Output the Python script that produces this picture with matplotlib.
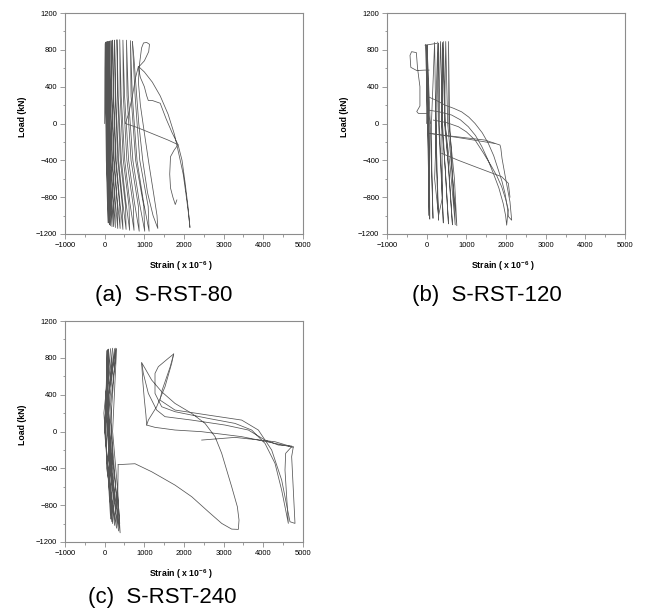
import matplotlib.pyplot as plt
from matplotlib.ticker import MultipleLocator

plt.rcParams['font.family'] = ['Liberation Sans', 'DejaVu Sans']
plt.rcParams['mathtext.fontset'] = 'custom'
plt.rcParams['mathtext.rm'] = 'Liberation Sans'
plt.rcParams['mathtext.bf'] = 'Liberation Sans:bold'

# axis settings shared by the three panels
x_ticks = [-1000, 0, 1000, 2000, 3000, 4000, 5000]
y_ticks = [-1200, -800, -400, 0, 400, 800, 1200]
captions = ['(a)  S-RST-80', '(b)  S-RST-120', '(c)  S-RST-240']

# (a) S-RST-80 : strain (x1e-6), load (kN)
a_band = [
    (0, 0), (5, 600), (15, 870),
    (22, 300), (41, -400), (68, -850), (90, -1080), (86, -900), (52, -400), (34, 300), (25, 880),
    (35, 300), (58, -400), (92, -850), (120, -1100), (115, -900), (72, -400), (49, 300), (35, 885),
    (47, 300), (75, -400), (116, -850), (150, -1110), (144, -900), (92, -400), (64, 300), (50, 885),
    (64, 300), (97, -400), (145, -850), (185, -1120), (178, -900), (118, -400), (84, 300), (70, 890),
    (86, 300), (124, -400), (178, -850), (225, -1120), (217, -900), (148, -400), (109, 300), (95, 890),
    (113, 300), (156, -400), (218, -850), (270, -1130), (261, -900), (183, -400), (139, 300), (125, 895),
    (146, 300), (197, -400), (269, -850), (330, -1140), (320, -900), (228, -400), (176, 300), (160, 900),
    (183, 300), (241, -400), (321, -850), (390, -1140), (379, -900), (275, -400), (218, 300), (200, 905),
    (226, 300), (291, -400), (382, -850), (460, -1150), (447, -900), (330, -400), (265, 300), (250, 905),
    (279, 300), (352, -400), (453, -850), (540, -1150), (526, -900), (395, -400), (323, 300), (310, 910),
    (342, 300), (422, -400), (534, -850), (630, -1160), (614, -900), (470, -400), (390, 300), (380, 910),
    (416, 300), (506, -400), (632, -850), (740, -1160), (722, -900), (560, -400), (470, 300), (460, 905),
    (501, 300), (604, -400), (747, -850), (870, -1170), (850, -900), (665, -400), (563, 300), (550, 905),
    (596, 300), (711, -400), (872, -850), (1010, -1170), (987, -900), (780, -400), (665, 300), (650, 900),
    (697, 300), (815, -400), (979, -850), (1120, -1170), (1097, -900), (885, -400), (767, 300), (700, 890),
]
a_tail1 = [
    (700, 890), (740, 700), (790, 400), (860, 0), (960, -400), (1080, -750),
    (1220, -1000), (1340, -1140), (1320, -1000), (1230, -750), (1120, -450),
    (1000, -100), (900, 200), (850, 450), (880, 650), (930, 820), (980, 875),
    (1060, 880), (1130, 860), (1110, 780), (1000, 680), (850, 610), (900, 500),
    (1000, 400), (1060, 300), (1100, 250), (1200, 250), (1400, 220), (1550, 50),
    (1700, -100), (1850, -230), (1950, -400), (2030, -650), (2100, -900),
    (2150, -1130), (2120, -1000), (2060, -800), (1980, -550), (1880, -350),
    (1760, -120), (1600, 100), (1400, 300), (1200, 450), (1000, 560), (850, 620),
]
a_tail2 = [
    (850, 620), (780, 500), (700, 300), (600, 100), (520, 0), (800, -40),
    (1200, -110), (1600, -180), (1850, -230), (1750, -290), (1660, -360),
    (1640, -550), (1660, -700), (1720, -800), (1780, -880), (1820, -830),
]

# (b) S-RST-120
b_band = [
    (0, 0), (10, 500), (20, 850),
    (40, 0), (60, -1000), (45, 0), (-10, 850),
    (20, 0), (70, -1030), (55, 0), (-30, 860),
    (30, 0), (80, -1040), (60, 0), (10, 855),
    (90, 0), (160, -1030), (130, -500), (120, 0), (200, 880),
    (230, 0), (300, -1050), (250, -500), (220, 0), (280, 885),
    (320, 0), (420, -1080), (360, -500), (300, 0), (350, 890),
    (400, 0), (550, -1090), (470, -500), (380, 0), (420, 890),
    (470, 0), (650, -1100), (560, -500), (450, 0), (480, 890),
    (530, 0), (760, -1110), (700, -600), (560, 0), (550, 890),
    (580, 0), (720, -1100), (600, -500), (460, 0), (400, 880),
    (380, 0), (400, -800), (300, -1000), (200, -600), (250, 0), (300, 870),
]
b_top = [(-40, 850), (250, 870)]
b_hook = [
    (60, 580), (-50, 580), (-250, 575), (-400, 610), (-420, 740), (-380, 780),
    (-260, 770), (-230, 600), (-170, 400), (-170, 190), (-250, 130), (-210, 110),
    (40, 110), (100, 0),
]
b_curve1 = [
    (40, 290), (250, 250), (460, 200), (680, 165), (880, 127), (1060, 70),
    (1220, 0), (1400, -100), (1555, -217), (1690, -350), (1807, -505),
    (1900, -630), (1975, -760), (2030, -900), (2060, -1010), (2143, -1050),
    (2100, -850), (2000, -620), (1900, -380), (1870, -270), (1849, -234),
    (1470, -180), (880, -150), (380, -125), (43, -107),
]
b_curve2 = [
    (43, 146), (330, 125), (630, 92), (850, 40), (1050, -35), (1230, -130),
    (1390, -250), (1540, -390), (1680, -540), (1820, -700), (1930, -870),
    (1990, -1000), (2017, -1104), (2040, -1000), (2060, -940), (1990, -820),
    (1890, -686), (1770, -570), (1640, -470), (1430, -320), (1220, -180),
    (1000, -90), (800, -35), (500, 10), (170, 37),
]
b_curve3 = [(378, -324), (800, -400), (1219, -469), (1891, -578), (2060, -650), (2100, -800)]
b_curve4 = [(85, -107), (900, -160), (1723, -217)]

# (c) S-RST-240
c_band = [
    (0, 0), (40, 500), (60, 880),
    (20, 0), (150, -950), (100, -200), (30, 300), (80, 890),
    (0, 0), (180, -980), (120, -300), (40, 300), (100, 895),
    (10, 0), (200, -1000), (150, -200), (60, 400), (150, 900),
    (-20, 200), (60, -300), (250, -1020), (180, -400), (80, 200), (200, 905),
    (30, 300), (50, -400), (300, -1050), (220, -500), (100, 200), (250, 900),
    (80, 400), (100, -300), (350, -1080), (260, -500), (150, 100), (280, 905),
    (100, 400), (130, -300), (390, -1100), (320, -600), (200, 0), (300, 900),
    (150, 300), (200, -300), (380, -1000), (330, -700), (340, -360),
]
c_loop1 = [
    (340, -360), (765, -350), (1185, -437), (1773, -582), (2194, -708),
    (2614, -871), (2950, -998), (3202, -1060), (3370, -1063), (3387, -962),
    (3345, -817), (3202, -600), (3076, -419), (2950, -237), (2782, -56),
    (2530, 88), (2194, 197), (1773, 305), (1437, 432), (1185, 559), (1017, 686),
    (933, 747), (975, 631), (1101, 414), (1311, 233), (1521, 161), (2194, 124),
    (3034, 70), (3622, 16), (4042, -93), (4378, -147), (4714, -158), (4756, -172),
    (4294, -129), (3454, -56), (2446, -2), (1773, 16), (1269, 45), (1059, 70),
    (1101, 124), (1311, 269), (1521, 486), (1689, 740), (1740, 842),
    (1605, 795), (1353, 704), (1269, 631), (1269, 414), (1437, 269), (1773, 215),
    (2614, 142), (3286, 88), (3706, 16), (4042, -129), (4294, -346), (4462, -636),
    (4630, -998), (4588, -708), (4546, -419), (4563, -237), (4714, -165),
    (4294, -111), (3286, -64), (2446, -93),
]
c_loop2 = [
    (1740, 842), (1650, 700), (1450, 450), (1395, 341), (1773, 233), (2614, 178),
    (3454, 124), (3874, 16), (4210, -201), (4462, -527), (4672, -980),
    (4798, -998), (4756, -636), (4714, -273), (4756, -165),
]
c_drop = [(933, 747), (960, 550), (1000, 350), (1040, 180), (1059, 70)]

panels = [
    [a_band, a_tail1, a_tail2],
    [b_band, b_top, b_hook, b_curve1, b_curve2, b_curve3, b_curve4],
    [c_band, c_loop1, c_loop2, c_drop],
]

W, H = 648, 615
boxes = [(65, 13), (387, 13), (65, 321)]   # top-left corners in pixels
aw, ah = 238, 221
caption_pos = [(164, 295), (487, 295), (162, 598)]

fig = plt.figure(figsize=(W / 100, H / 100), dpi=100)
grey = '#8c8c8c'

for i, curves in enumerate(panels):
    x0, y0 = boxes[i]
    ax = fig.add_axes([x0 / W, 1 - (y0 + ah) / H, aw / W, ah / H])
    for c in curves:
        xs = [p[0] for p in c]
        ys = [p[1] for p in c]
        ax.plot(xs, ys, color='#555555', lw=0.55)
    ax.set_xlim(-1000, 5000)
    ax.set_ylim(-1200, 1200)
    ax.set_xticks(x_ticks)
    ax.set_yticks(y_ticks)
    ax.xaxis.set_minor_locator(MultipleLocator(500))
    ax.yaxis.set_minor_locator(MultipleLocator(200))
    ax.tick_params(which='major', length=3.6, width=0.6, color=grey,
                   labelsize=5.5, pad=2)
    ax.tick_params(which='minor', length=1.8, width=0.6, color=grey)
    for s in ax.spines.values():
        s.set_color(grey)
        s.set_linewidth(0.8)
    ax.set_xlabel(r'Strain ( x 10$^{\mathbf{-6}}$ )', fontsize=6.3,
                  fontweight='bold', va='center')
    ax.xaxis.set_label_coords(0.487, -0.145)
    ax.set_ylabel('Load (kN)', fontsize=6.3, fontweight='bold', va='center')
    ax.yaxis.set_label_coords(-0.18, 0.53)
    cx, cy = caption_pos[i]
    fig.text(cx / W, 1 - cy / H, captions[i], fontsize=16, ha='center',
             va='center')

fig.savefig('out.png', dpi=100)
